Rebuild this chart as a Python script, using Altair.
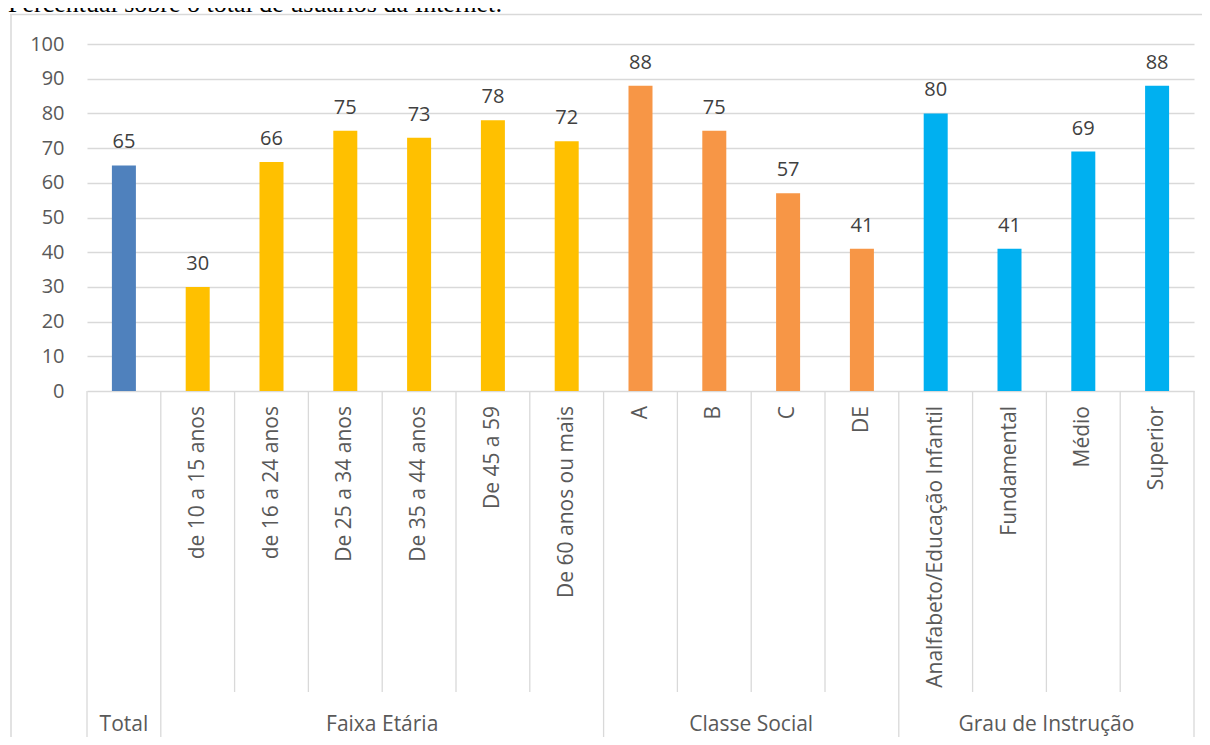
import altair as alt
import pandas as pd

categories = ["Total", "de 10 a 15 anos", "de 16 a 24 anos", "De 25 a 34 anos",
              "De 35 a 44 anos", "De 45 a 59", "De 60 anos ou mais",
              "A", "B", "C", "DE",
              "Analfabeto/Educação Infantil", "Fundamental", "Médio", "Superior"]
values = [65, 30, 66, 75, 73, 78, 72, 88, 75, 57, 41, 80, 41, 69, 88]
groups = (["Total"] + ["Faixa Etária"] * 6 + ["Classe Social"] * 4
          + ["Grau de Instrução"] * 4)
group_names = ["Total", "Faixa Etária", "Classe Social", "Grau de Instrução"]
group_colors = ["#4F81BD", "#FFC000", "#F79646", "#00B0F0"]
title_text = "Percentual sobre o total de usuários da Internet:"

n = len(categories)
df = pd.DataFrame({"cat": categories, "value": values, "group": groups,
                   "pos": [i + 0.5 for i in range(n)]})

bounds_full, bounds_part, gmid = [0], [], []
start = 0
for g in group_names:
    cnt = groups.count(g)
    end = start + cnt
    bounds_part += list(range(start + 1, end))
    bounds_full.append(end)
    gmid.append((start + end) / 2)
    start = end
df_full = pd.DataFrame({"b": bounds_full})
df_part = pd.DataFrame({"b": bounds_part})
df_groups = pd.DataFrame({"g": group_names, "mid": gmid})

W, H = 1107, 347
xscale = alt.Scale(domain=[0, n], nice=False, zero=False, padding=0)
yscale = alt.Scale(domain=[0, 100], nice=False, padding=0)
GRID = "#D9D9D9"
FONT = "Open Sans"

yaxis = alt.Axis(values=list(range(0, 101, 10)), grid=True,
                 gridColor=GRID, gridWidth=1.3, domain=False,
                 ticks=False, labelFont=FONT, labelFontSize=20,
                 labelColor="#595959", labelPadding=23, title=None)


def X(field):
    return alt.X(field, scale=xscale, axis=None)


def Y(field):
    return alt.Y(field, scale=yscale, axis=yaxis)


base = alt.Chart(df)

bars = base.mark_bar(size=24).encode(
    x=X("pos:Q"),
    y=Y("value:Q"),
    color=alt.Color("group:N", scale=alt.Scale(domain=group_names,
                                               range=group_colors),
                    legend=None),
)

value_labels = base.mark_text(dy=-17, baseline="alphabetic", fontSize=20,
                              font=FONT, color="#404040").encode(
    x=X("pos:Q"),
    y=Y("value:Q"),
    text="value:Q",
)

# category labels (a group with a single member shows only its group label)
cat_labels = base.transform_filter("datum.cat != datum.group").mark_text(
    angle=270, align="right", baseline="middle",
    fontSize=21, font=FONT, color="#595959").encode(
    x=X("pos:Q"),
    y=alt.value(362),
    text="cat:N",
)

sep_full = alt.Chart(df_full).mark_rule(color=GRID, strokeWidth=1.3).encode(
    x=X("b:Q"), y=alt.value(H), y2=alt.value(700))
sep_part = alt.Chart(df_part).mark_rule(color=GRID, strokeWidth=1.3).encode(
    x=X("b:Q"), y=alt.value(H), y2=alt.value(648))

group_labels = alt.Chart(df_groups).mark_text(
    baseline="alphabetic", fontSize=21, font=FONT, color="#595959").encode(
    x=X("mid:Q"), y=alt.value(687), text="g:N")

one = alt.Chart(pd.DataFrame({"t": [title_text]}))
frame_top = one.mark_rule(color=GRID, strokeWidth=1.5).encode(
    x=alt.value(-77), x2=alt.value(1200), y=alt.value(-29.5))
frame_left = one.mark_rule(color=GRID, strokeWidth=1.5).encode(
    x=alt.value(-76), y=alt.value(-30), y2=alt.value(720))
title = one.mark_text(align="left", baseline="alphabetic", fontSize=26,
                      font="Liberation Serif", color="#000000").encode(
    x=alt.value(-79), y=alt.value(-32), text="t:N")

chart = alt.layer(
    bars, frame_top, frame_left, title, sep_full, sep_part, value_labels,
    cat_labels, group_labels
).properties(
    width=W, height=H,
    autosize=alt.AutoSizeParams(type="none"),
    padding={"left": 79, "top": 36, "right": 8, "bottom": 346},
).configure_view(stroke=None)

chart.save("out.html", embed_options={"renderer": "svg", "actions": False})
